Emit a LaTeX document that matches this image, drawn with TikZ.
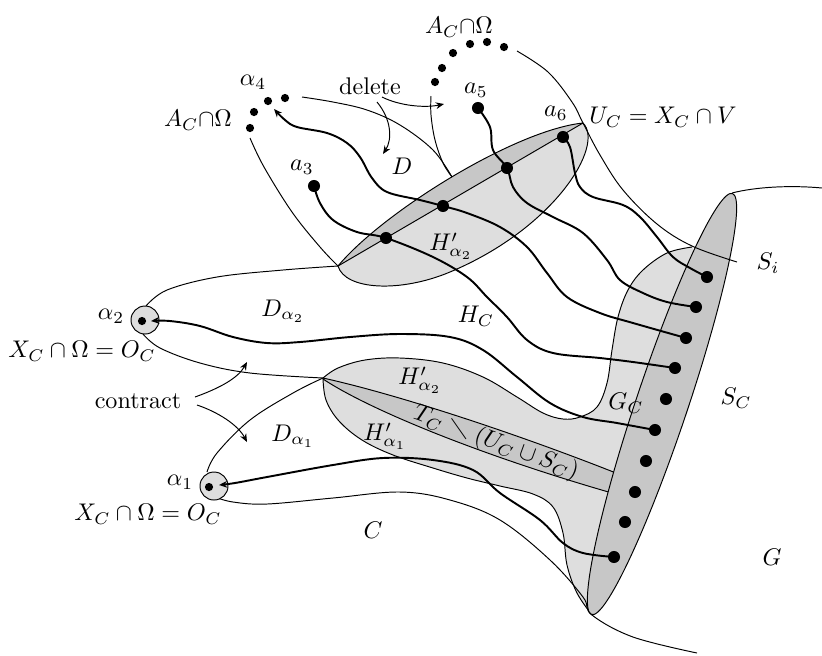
\documentclass[tikz,border=0pt]{standalone}
\usepackage{graphicx}
\usetikzlibrary{arrows.meta}
\definecolor{darkg}{gray}{0.78}
\definecolor{lightg}{gray}{0.87}
\begin{document}
\begin{tikzpicture}[x=0.415pt,y=-0.415pt,
  edge/.style={line width=0.4pt},
  heavy/.style={line width=0.8pt},
  bigdot/.style={circle,fill=black,inner sep=0pt,minimum size=5pt},
  smalldot/.style={circle,fill=black,inner sep=0pt,minimum size=3.4pt},
  arr/.style={-{Stealth[length=3.4pt,width=2.8pt]}},
  lbl/.style={inner sep=0pt},
  smooth curve/.style={smooth,tension=0.6}]
\useasboundingbox (0,0) rectangle (822,655);

% key points
\coordinate (Lt) at (338,266);
\coordinate (Rt) at (583,123);
\coordinate (Tt) at (323,378);
\coordinate (SCtop) at (732,193);
\coordinate (SCbot) at (592,615);
\coordinate (SiL) at (692,246);
\coordinate (SiR) at (737,262);
\coordinate (Emeet) at (452,177);

% G_C / T_C light region
\fill[lightg] plot[smooth curve] coordinates {(692,247) (667,253) (643,270) (628,290) (618,317) (612,350) (607,383) (597,407) (580,417) (563,419) (543,413) (517,397) (483,377) (443,363) (400,358) (365,360) (338,368) (323,378)}
  -- plot[smooth curve] coordinates {(323,378) (326,400) (339,421) (362,440) (393,455) (433,468) (467,478) (500,486) (533,494) (553,507) (563,533) (567,565) (577,593) (592,615)}
  -- (700,260) -- cycle;
% T_C strip
\fill[darkg] (Tt) .. controls (400,395) and (520,435) .. (616,473) -- (612,493) .. controls (480,455) and (370,410) .. (323,379) -- cycle;
\draw[edge] plot[smooth curve] coordinates {(692,247) (667,253) (643,270) (628,290) (618,317) (612,350) (607,383) (597,407) (580,417) (563,419) (543,413) (517,397) (483,377) (443,363) (400,358) (365,360) (338,368) (323,378)}
  -- plot[smooth curve] coordinates {(323,378) (326,400) (339,421) (362,440) (393,455) (433,468) (467,478) (500,486) (533,494) (553,507) (563,533) (567,565) (577,593) (592,615)};
\draw[edge] (Tt) .. controls (400,395) and (520,435) .. (616,473);
\draw[edge] (323,379) .. controls (370,410) and (480,455) .. (612,493);

% upper ellipse U_C
\fill[lightg] (Lt) .. controls (383,212) and (515,130) .. (Rt) .. controls (605,145) and (555,228) .. (450,272) .. controls (400,293) and (345,290) .. (Lt) -- cycle;
\fill[darkg] (Lt) .. controls (383,212) and (515,130) .. (Rt) -- cycle;
\draw[edge] (Lt) .. controls (383,212) and (515,130) .. (Rt) .. controls (605,145) and (555,228) .. (450,272) .. controls (400,293) and (345,290) .. (Lt) -- cycle;
\draw[edge] (Lt) -- (Rt);

% S_C ellipse
\filldraw[fill=darkg,draw=black,edge,rotate around={71.5:(662,404)}] (662,404) ellipse (222 and 26);

% thin lines
\draw[edge] plot[smooth curve] coordinates {(517,51) (548,72) (572,102) (Rt) (600,155) (623,190) (657,224) (SiL) (SiR)};
\draw[edge] (SCtop) .. controls (755,187) and (790,185) .. (822,188);
\draw[edge] plot[smooth curve] coordinates {(146,306) (167,290) (217,277) (283,270) (Lt)};
\draw[edge] plot[smooth curve] coordinates {(143,334) (160,348) (200,363) (250,373) (Tt)};
\draw[edge] plot[smooth curve] coordinates {(207,472) (217,453) (250,420) (293,393) (Tt)};
\draw[edge] plot[smooth curve] coordinates {(215,497) (233,502) (267,504) (333,498) (400,492) (450,500) (500,520) (550,560) (583,597) (SCbot) (633,637) (697,653)};
\draw[edge] plot[smooth curve] coordinates {(250,138) (264,167) (292,212) (320,247) (Lt)};
\draw[edge] plot[smooth curve] coordinates {(302,97) (333,102) (367,110) (400,125) (433,150) (Emeet)};
\draw[edge] plot[smooth curve] coordinates {(431,96) (431,115) (435,140) (443,163) (Emeet)};

% circles O_C
\filldraw[fill=lightg,draw=black,edge] (145,320) circle (14);
\filldraw[fill=lightg,draw=black,edge] (214,486) circle (14);
\node[smalldot] (al2) at (142,321) {};
\node[smalldot] (al1) at (209,487) {};

% dots
\node[bigdot] (d1) at (707,277) {};
\node[bigdot] (d2) at (696,307) {};
\node[bigdot] (d3) at (686,338) {};
\node[bigdot] (d4) at (675,368) {};
\node[bigdot] (d5) at (666,399) {};
\node[bigdot] (d6) at (655,430) {};
\node[bigdot] (d7) at (646,461) {};
\node[bigdot] (d8) at (635,492) {};
\node[bigdot] (d9) at (625,522) {};
\node[bigdot] (d10) at (614,557) {};
\node[bigdot] (e1) at (386,238) {};
\node[bigdot] (e2) at (443,206) {};
\node[bigdot] (e3) at (507,168) {};
\node[bigdot] (a6) at (563,137) {};
\node[bigdot] (a3) at (314,186) {};
\node[bigdot] (a5) at (478,108) {};
\foreach \p [count=\i] in {(435,82),(442,68),(453,53),(470,44),(487,42),(504,47)}
  \node[smalldot] (t\i) at \p {};
\foreach \p [count=\i] in {(250,128),(254,112),(268,101),(285,98)}
  \node[smalldot] (s\i) at \p {};

% heavy paths
\draw[heavy,arr] plot[smooth curve] coordinates {(d6.center) (617,423) (583,417) (550,403) (517,377) (483,350) (450,337) (400,334) (350,337) (300,342) (267,343) (233,337) (200,326) (170,321) (151,321)};
\draw[heavy,arr] plot[smooth curve] coordinates {(d10.center) (583,553) (563,543) (540,520) (500,493) (473,470) (433,460) (383,458) (333,465) (267,477) (235,483) (219,485)};
\draw[heavy] plot[smooth curve] coordinates {(a3.center) (320,203) (333,220) (357,232) (e1.center) (433,257) (467,277) (487,297) (507,317) (527,340) (553,353) (600,358) (633,362) (d4.center)};
\draw[heavy,arr] plot[smooth curve] coordinates {(d3.center) (633,323) (600,313) (567,297) (547,273) (527,247) (500,227) (467,213) (e2.center) (420,200) (387,192) (372,178) (360,157) (347,143) (327,133) (297,127) (285,120) (274,109)};
\draw[heavy] plot[smooth curve] coordinates {(a5.center) (490,127) (493,150) (e3.center) (513,187) (527,203) (553,217) (583,233) (607,260) (620,280) (643,293) (667,302) (d2.center)};
\draw[heavy] plot[smooth curve] coordinates {(a6.center) (570,147) (575,173) (580,187) (593,197) (623,205) (640,217) (657,237) (673,257) (690,268) (d1.center)};

% labels
\node[lbl] (lAC1) at (459,27) {$A_C{\cap}\Omega$};
\node[lbl] (lAC2) at (198,120) {$A_C{\cap}\Omega$};
\node[lbl] (lal4) at (253,82) {$\alpha_4$};
\node[lbl] (ldel) at (370,86) {delete};
\node[lbl] (la5) at (476,90) {$a_5$};
\node[lbl] (la6) at (556,113) {$a_6$};
\node[lbl] (lUC) at (663,117) {$U_C = X_C\cap V$};
\node[lbl] (lD) at (402,166) {$D$};
\node[lbl] (la3) at (302,167) {$a_3$};
\node[lbl] (lH2u) at (451,246) {$H'_{\alpha_2}$};
\node[lbl] (lSi) at (768,263) {$S_i$};
\node[lbl] (lDa2) at (283,311) {$D_{\alpha_2}$};
\node[lbl] (lHC) at (476,316) {$H_C$};
\node[lbl] (lal2) at (111,316) {$\alpha_2$};
\node[lbl] (lX1) at (82,351) {$X_C\cap\Omega = O_C$};
\node[lbl] (lcon) at (138,401) {contract};
\node[lbl] (lH2l) at (420,380) {$H'_{\alpha_2}$};
\node[lbl] (lGC) at (626,403) {$G_C$};
\node[lbl] (lSC) at (736,398) {$S_C$};
\node[lbl] (lDa1) at (293,436) {$D_{\alpha_1}$};
\node[lbl] (lH1) at (385,436) {$H'_{\alpha_1}$};
\node[lbl,rotate=-20] (lTC) at (496,443) {$T_C\mathbin{\rotatebox[origin=c]{35}{$\setminus$}}(U_C\cup S_C)$};
\node[lbl] (lal1) at (180,482) {$\alpha_1$};
\node[lbl] (lX2) at (148,514) {$X_C\cap\Omega = O_C$};
\node[lbl] (lC) at (373,530) {$C$};
\node[lbl] (lG) at (772,557) {$G$};

% delete / contract arrows
\draw[edge,arr] (382,97) .. controls (400,106) and (425,108) .. (444,104);
\draw[edge,arr] (377,102) .. controls (392,120) and (392,140) .. (383,154);
\draw[edge,arr] (195,397) .. controls (220,388) and (238,378) .. (247,362);
\draw[edge,arr] (197,405) .. controls (218,412) and (238,425) .. (247,442);
\end{tikzpicture}
\end{document}
